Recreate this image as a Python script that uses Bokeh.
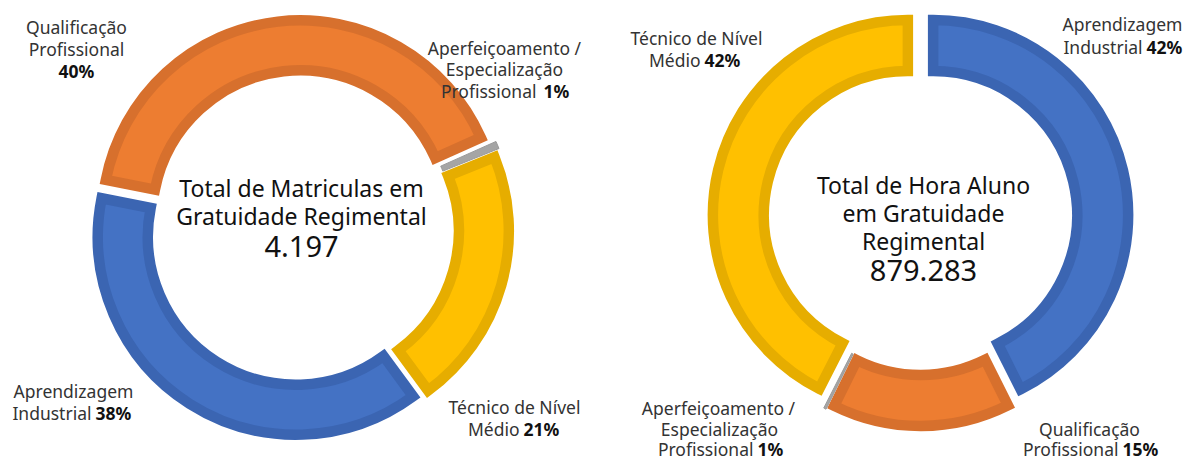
import numpy as np
from bokeh.plotting import figure
from bokeh.models import Range1d
from bokeh.core.properties import value
from bokeh.embed import file_html
from bokeh.resources import INLINE

# ---------------- data ----------------
left_categories = ["Qualificação Profissional",
                   "Aperfeiçoamento / Especialização Profissional",
                   "Técnico de Nível Médio",
                   "Aprendizagem Industrial"]
left_values = [40.2, 0.6, 21.0, 38.2]
left_pct_labels = ["40%", "1%", "21%", "38%"]
left_total = 4197
left_title = ["Total de Matriculas em", "Gratuidade Regimental"]

right_categories = ["Aprendizagem Industrial",
                    "Qualificação Profissional",
                    "Aperfeiçoamento / Especialização Profissional",
                    "Técnico de Nível Médio"]
right_values = [42.6, 14.7, 0.2, 42.5]
right_pct_labels = ["42%", "15%", "1%", "42%"]
right_total = 879283
right_title = ["Total de Hora Aluno", "em Gratuidade", "Regimental"]

# ---------------- styles ----------------
FILL = {"Aprendizagem Industrial": "#4472C4",
        "Qualificação Profissional": "#ED7D31",
        "Aperfeiçoamento / Especialização Profissional": "#A5A5A5",
        "Técnico de Nível Médio": "#FFC000"}
EDGE = {"Aprendizagem Industrial": "#3B65B2",
        "Qualificação Profissional": "#D7702D",
        "Aperfeiçoamento / Especialização Profissional": "#9A9A9A",
        "Técnico de Nível Médio": "#E6AD00"}
FONT = value("Noto Sans")
LABEL_COLOR = "#333333"
CENTER_COLOR = "#111111"
LABEL_SIZE = "17.5px"

W, H = 1185, 459
PAGE_H = 459


def Y(ref_y):
    return PAGE_H - ref_y


p = figure(width=W, height=H, output_backend="svg", toolbar_location=None,
           x_range=Range1d(0, W), y_range=Range1d(0, H),
           min_border=0, x_axis_location=None, y_axis_location=None)
p.grid.visible = False
p.outline_line_color = None
p.background_fill_color = "white"
p.border_fill_color = "white"


def donut(cx, cy, cats, vals, start_deg, r_out, r_in, lw, explode):
    v = np.array(vals, dtype=float)
    frac = v / v.sum()
    ends = start_deg + np.cumsum(frac) * 360.0
    starts = ends - frac * 360.0
    mids = (starts + ends) / 2.0
    for c, a0, a1, am in zip(cats, starts, ends, mids):
        dx = explode * np.sin(np.radians(am))
        dy = explode * np.cos(np.radians(am))
        small = "Aperfeiçoamento" in c
        if small:
            p.annular_wedge(x=[cx + dx], y=[Y(cy) + dy],
                            inner_radius=r_in - lw / 2, outer_radius=r_out + lw / 2,
                            start_angle=np.radians(90 - a1), end_angle=np.radians(90 - a0),
                            fill_color=FILL[c], line_color=EDGE[c], line_width=1)
        else:
            p.annular_wedge(x=[cx + dx], y=[Y(cy) + dy],
                            inner_radius=r_in, outer_radius=r_out,
                            start_angle=np.radians(90 - a1), end_angle=np.radians(90 - a0),
                            fill_color=FILL[c], line_color=EDGE[c], line_width=lw,
                            line_join="miter")


def txt(x, y, s, size=LABEL_SIZE, align="center", bold=False, color=LABEL_COLOR):
    p.text(x=[x], y=[Y(y)], text=[s], text_font=FONT, text_font_size=size,
           text_align=align, text_baseline="middle", text_color=color,
           text_font_style="bold" if bold else "normal")


def fmt_total(n):
    return f"{n:,}".replace(",", ".")


# ---------------- left donut ----------------
donut(300.7, 227.8, left_categories, left_values, -78.8, 198, 148, 10.5, 10)

txt(301, 187, left_title[0], size="23px", color=CENTER_COLOR)
txt(301, 215, left_title[1], size="23px", color=CENTER_COLOR)
txt(301, 246, fmt_total(left_total), size="29px", color=CENTER_COLOR)

# Qualificação Profissional
txt(76, 26, "Qualificação")
txt(76, 48, "Profissional")
txt(76, 70, left_pct_labels[0], bold=True, color="#111111")
# Aperfeiçoamento
txt(504, 47, "Aperfeiçoamento /")
txt(504, 68, "Especialização")
txt(536, 90, "Profissional", align="right")
txt(543, 90, left_pct_labels[1], align="left", bold=True, color="#111111")
# Técnico
txt(514, 406, "Técnico de Nível")
txt(519, 428, "Médio", align="right")
txt(523, 428, left_pct_labels[2], align="left", bold=True, color="#111111")
# Aprendizagem
txt(73, 390, "Aprendizagem")
txt(91, 412, "Industrial", align="right")
txt(95, 412, left_pct_labels[3], align="left", bold=True, color="#111111")

# ---------------- right donut ----------------
donut(920, 217.5, right_categories, right_values, 0.0, 195, 144, 10.5, 13)

txt(923, 184, right_title[0], size="23px", color=CENTER_COLOR)
txt(923, 212, right_title[1], size="23px", color=CENTER_COLOR)
txt(923, 240, right_title[2], size="23px", color=CENTER_COLOR)
txt(923, 270, fmt_total(right_total), size="29px", color=CENTER_COLOR)

# Técnico
txt(696, 37, "Técnico de Nível")
txt(700, 59, "Médio", align="right")
txt(704, 59, right_pct_labels[3], align="left", bold=True, color="#111111")
# Aprendizagem
txt(1122, 23, "Aprendizagem")
txt(1142, 46, "Industrial", align="right")
txt(1146, 46, right_pct_labels[0], align="left", bold=True, color="#111111")
# Aperfeiçoamento
txt(718, 407, "Aperfeiçoamento /")
txt(719, 428, "Especialização")
txt(753, 448, "Profissional", align="right")
txt(757, 448, right_pct_labels[2], align="left", bold=True, color="#111111")
# Qualificação
txt(1089, 428, "Qualificação")
txt(1118, 448, "Profissional", align="right")
txt(1122, 448, right_pct_labels[1], align="left", bold=True, color="#111111")

open("out.html", "w").write(file_html(p, INLINE))
